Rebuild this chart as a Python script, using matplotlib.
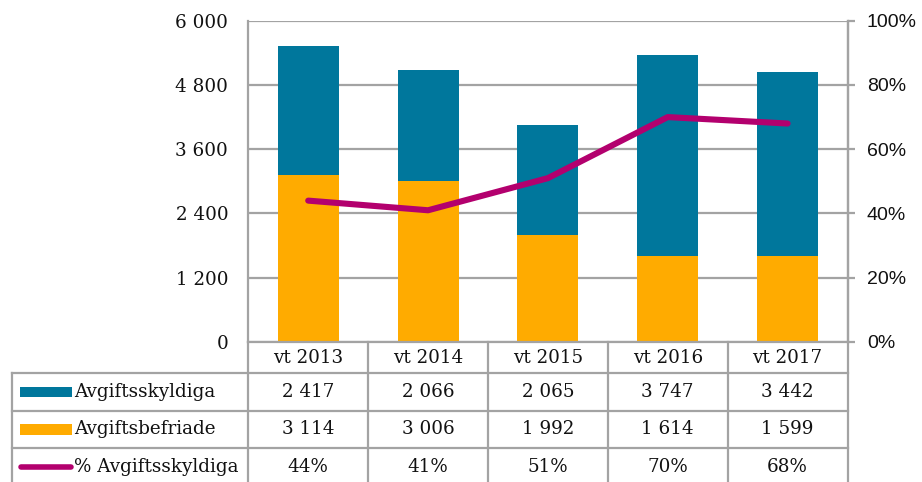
import matplotlib
matplotlib.use("Agg")
import matplotlib.pyplot as plt
from matplotlib import transforms
from matplotlib.patches import Rectangle
from matplotlib.lines import Line2D

# ---- data ----
categories = ["vt 2013", "vt 2014", "vt 2015", "vt 2016", "vt 2017"]
avgiftsskyldiga = [2417, 2066, 2065, 3747, 3442]
avgiftsbefriade = [3114, 3006, 1992, 1614, 1599]
pct_skyldiga = [0.44, 0.41, 0.51, 0.70, 0.68]
series_names = ["Avgiftsskyldiga", "Avgiftsbefriade", "% Avgiftsskyldiga"]
left_ticks = [0, 1200, 2400, 3600, 4800, 6000]
right_ticks = [0, 0.2, 0.4, 0.6, 0.8, 1.0]

# ---- style ----
BLUE = "#00779C"
ORANGE = "#FFAB00"
MAGENTA = "#B3006E"
GRID = "#A3A3A3"
TXT = "#111111"
SERIF = "DejaVu Serif"
SANS = "Liberation Sans"
FS = 13.2

W, H = 922, 482
fig = plt.figure(figsize=(W / 100, H / 100), dpi=100)

ax_l, ax_r, ax_t, ax_b = 248.3, 847.5, 20.7, 342.0  # pixel box of plot area
ax = fig.add_axes([ax_l / W, (H - ax_b) / H, (ax_r - ax_l) / W, (ax_b - ax_t) / H])

x = list(range(len(categories)))
ax.bar(x, avgiftsbefriade, width=0.51, color=ORANGE, zorder=2)
ax.bar(x, avgiftsskyldiga, width=0.51, bottom=avgiftsbefriade, color=BLUE, zorder=2)

ax.set_xlim(-0.5, len(categories) - 0.5)
ax.set_ylim(0, 6000)
ax.set_yticks(left_ticks)
ax.set_yticklabels([f"{v:,}".replace(",", " ") for v in left_ticks],
                   fontfamily=SERIF, fontsize=FS, color=TXT)
ax.tick_params(axis="y", length=0, pad=14.5)
ax.set_xticks([])
ax.yaxis.grid(True, color=GRID, linewidth=1.6, zorder=0)
ax.set_axisbelow(True)
ax.spines["top"].set_visible(False)
for s in ["left", "bottom", "right"]:
    ax.spines[s].set_color(GRID)
    ax.spines[s].set_linewidth(1.6)

ax2 = ax.twinx()
ax2.plot(x, pct_skyldiga, color=MAGENTA, linewidth=4.4, solid_capstyle="round",
         solid_joinstyle="round", zorder=3)
ax2.set_ylim(0, 1)
ax2.set_yticks(right_ticks)
ax2.set_yticklabels([f"{int(round(v * 100))}%" for v in right_ticks],
                    fontfamily=SANS, fontsize=14, color=TXT)
ax2.tick_params(axis="y", length=5, width=1.6, color=GRID, pad=9)
for s in ["top", "left", "bottom"]:
    ax2.spines[s].set_visible(False)
ax2.spines["right"].set_color(GRID)
ax2.spines["right"].set_linewidth(1.6)

# ---- data table below the chart ----
trans = transforms.blended_transform_factory(ax.transData, ax.transAxes)
col_w = (ax_r - ax_l) / len(categories)


def px2x(px):
    return -0.5 + (px - ax_l) / col_w


def py2y(py):
    return (ax_b - py) / (ax_b - ax_t)


row_edges_px = [ax_b, 373.3, 410.7, 448.3, 486.0]
tab_left = px2x(11.7)
xmax = len(categories) - 0.5
lw = 1.6

for i in range(len(categories) + 1):
    xe = i - 0.5
    ax.add_line(Line2D([xe, xe], [py2y(row_edges_px[0]), py2y(row_edges_px[-1])],
                       transform=trans, color=GRID, lw=lw, clip_on=False))
ax.add_line(Line2D([tab_left, tab_left], [py2y(row_edges_px[1]), py2y(row_edges_px[-1])],
                   transform=trans, color=GRID, lw=lw, clip_on=False))
for py in row_edges_px[1:4]:
    ax.add_line(Line2D([tab_left, xmax], [py2y(py), py2y(py)],
                       transform=trans, color=GRID, lw=lw, clip_on=False))

row_centers = [(row_edges_px[k] + row_edges_px[k + 1]) / 2 for k in range(4)]

for i, c in enumerate(categories):
    ax.text(i, py2y(row_centers[0]), c, transform=trans, ha="center", va="center",
            fontfamily=SERIF, fontsize=FS, color=TXT, clip_on=False)

rows = [
    [f"{v:,}".replace(",", " ") for v in avgiftsskyldiga],
    [f"{v:,}".replace(",", " ") for v in avgiftsbefriade],
    [f"{int(round(v * 100))}%" for v in pct_skyldiga],
]
for r, vals in enumerate(rows):
    yc = py2y(row_centers[r + 1])
    for i, v in enumerate(vals):
        ax.text(i, yc, v, transform=trans, ha="center", va="center",
                fontfamily=SERIF, fontsize=FS, color=TXT, clip_on=False)
    ax.text(px2x(74), yc, series_names[r], transform=trans, ha="left", va="center",
            fontfamily=SERIF, fontsize=FS, color=TXT, clip_on=False)

key_h = 10.5 / (ax_b - ax_t)
for r, col in enumerate([BLUE, ORANGE]):
    yc = py2y(row_centers[r + 1])
    ax.add_patch(Rectangle((px2x(20), yc - key_h / 2), px2x(72) - px2x(20), key_h,
                           transform=trans, facecolor=col, edgecolor="none",
                           clip_on=False))
yc = py2y(row_centers[3])
ax.add_line(Line2D([px2x(21), px2x(71)], [yc, yc], transform=trans, color=MAGENTA,
                   lw=4.0, solid_capstyle="round", clip_on=False))

fig.savefig("out.png", dpi=100)
